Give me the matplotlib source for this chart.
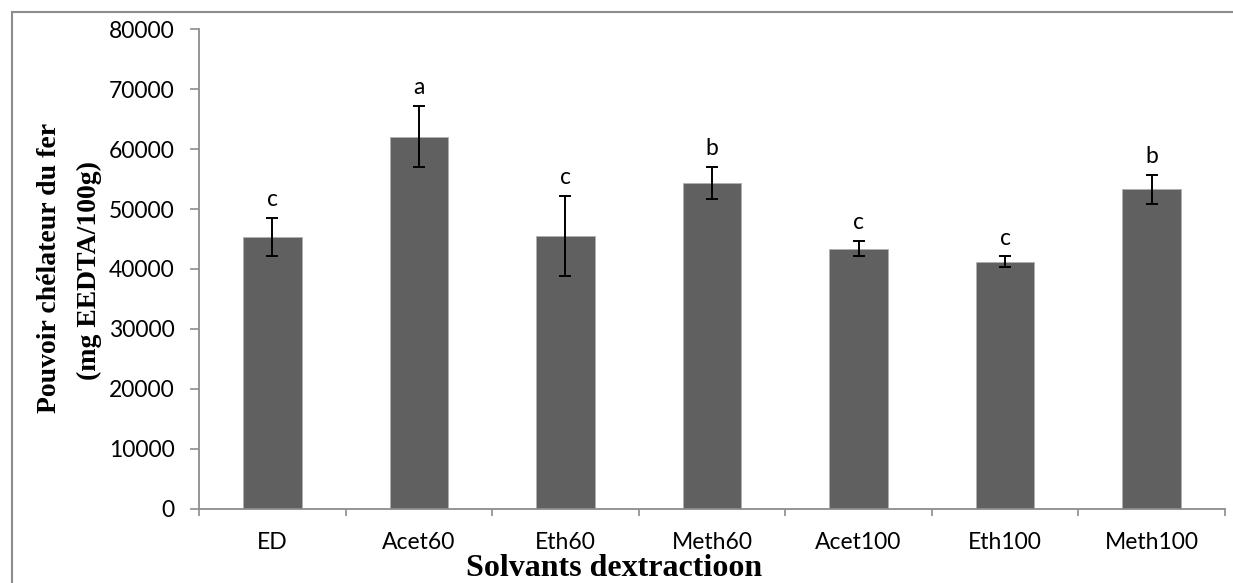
import matplotlib
matplotlib.use("Agg")
import matplotlib.pyplot as plt
from matplotlib.patches import Rectangle
import numpy as np

# Iron-chelating power per extraction solvent
solvents = ["ED", "Acet60", "Eth60", "Meth60", "Acet100", "Eth100", "Meth100"]
chelating_power = [45300, 62100, 45500, 54400, 43400, 41200, 53300]
std_dev = [3200, 5050, 6750, 2650, 1250, 900, 2400]
groups = ["c", "a", "c", "b", "c", "c", "b"]
y_ticks = [0, 10000, 20000, 30000, 40000, 50000, 60000, 70000, 80000]

W, H = 1233, 583
fig = plt.figure(figsize=(W / 100, H / 100), dpi=100)
ax = fig.add_axes([199 / W, 1 - 508.5 / H, (1225 - 199) / W, (508.5 - 29.3) / H])

axis_grey = "#8c8c8c"
tick_font = "Lato"
tick_size = 16.5

x = np.arange(len(solvents))
ax.bar(x, chelating_power, width=0.4, color="#606060",
       edgecolor="#b0b0b0", linewidth=0.6, zorder=2)
ax.errorbar(x, chelating_power, yerr=std_dev, fmt="none", ecolor="black",
            elinewidth=1.4, capsize=4.5, capthick=1.4, zorder=3)

for xi, v, e, g in zip(x, chelating_power, std_dev, groups):
    ax.annotate(g, (xi, v + e), xytext=(0, 8.5), textcoords="offset points",
                ha="center", va="baseline", fontsize=tick_size, family=tick_font)

ax.set_xlim(-0.5, len(solvents) - 0.5)
ax.set_ylim(0, 80000)
ax.set_yticks(y_ticks)
ax.set_yticklabels([str(t) for t in y_ticks], fontsize=tick_size, family=tick_font)

# category boundaries carry the tick marks, centres carry the labels
ax.set_xticks(np.arange(-0.5, len(solvents)), minor=False)
ax.set_xticklabels([])
ax.set_xticks(x, minor=True)
ax.set_xticklabels(solvents, minor=True, fontsize=tick_size, family=tick_font)
ax.tick_params(axis="x", which="minor", length=0, pad=17)
ax.tick_params(axis="x", which="major", length=5, width=1.2, color=axis_grey, direction="out")
ax.tick_params(axis="y", length=6.5, width=1.2, color=axis_grey, direction="out", pad=11)

for side in ("top", "right"):
    ax.spines[side].set_visible(False)
for side in ("left", "bottom"):
    ax.spines[side].set_color(axis_grey)
    ax.spines[side].set_linewidth(1.3)

serif_bold = dict(family="Liberation Serif", fontweight="bold")
fig.text(50 / W, 1 - 268 / H, "Pouvoir chélateur du fer", rotation=90,
         ha="center", va="center", fontsize=20, **serif_bold)
fig.text(89 / W, 1 - 270 / H, "(mg EEDTA/100g)", rotation=90,
         ha="center", va="center", fontsize=20, **serif_bold)
fig.text(614 / W, 1 - 576 / H, "Solvants dextractioon",
         ha="center", va="baseline", fontsize=23, **serif_bold)

# outer chart frame
fig.patches.append(Rectangle((12 / W, -0.05), 1.2, 1 - 12.5 / H + 0.05,
                             transform=fig.transFigure, fill=False,
                             edgecolor=axis_grey, linewidth=1.5))

fig.savefig("out.png", dpi=100)
